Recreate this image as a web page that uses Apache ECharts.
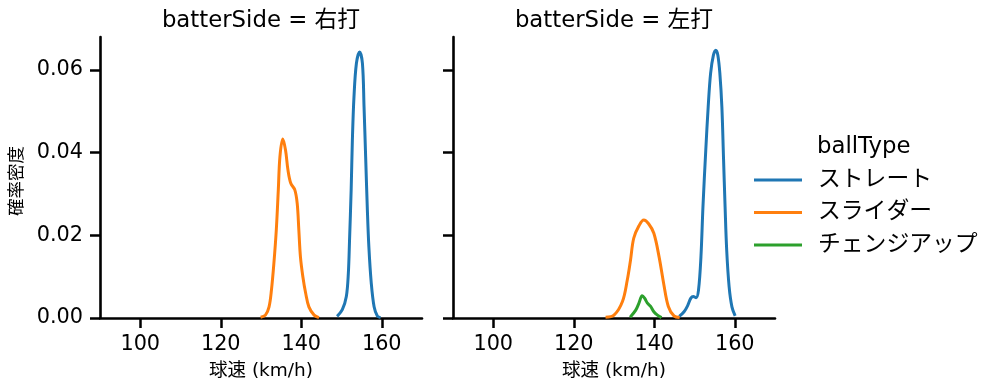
<!DOCTYPE html>
<html>
<head>
<meta charset="utf-8">
<script src="https://cdn.jsdelivr.net/npm/echarts@6/dist/echarts.min.js"></script>
<style>
  html, body { margin: 0; padding: 0; background: #fff; }
  #chart { width: 999px; height: 391px; }
</style>
</head>
<body>
<div id="chart"></div>
<script>
// ---- data ----
const panelTitles = ['batterSide = 右打', 'batterSide = 左打'];
const ballTypes = ['ストレート', 'スライダー', 'チェンジアップ'];
const xTicks = [100, 120, 140, 160];
const yTicks = [0, 0.02, 0.04, 0.06];

// 右打 : ストレート
const rStraightX = [148.9, 150.2, 151.2, 151.7, 152.0, 152.4, 152.7, 153.1, 153.7, 154.5, 155.2, 155.6, 156.0, 156.4, 156.8, 157.4, 158.1, 158.9, 159.7];
const rStraightY = [0.0004, 0.002, 0.0052, 0.0108, 0.0189, 0.031, 0.043, 0.0535, 0.0616, 0.0644, 0.0616, 0.0511, 0.039, 0.0269, 0.0172, 0.0084, 0.0027, 0.0005, 0.0001];
// 右打 : スライダー
const rSliderX = [129.9, 131.1, 132.0, 132.6, 133.2, 133.8, 134.3, 134.7, 135.4, 136.1, 136.7, 137.4, 138.4, 139.0, 139.4, 139.8, 140.4, 141.1, 141.9, 143.2, 144.4];
const rSliderY = [0.0002, 0.0007, 0.0027, 0.0068, 0.0132, 0.0213, 0.031, 0.039, 0.0433, 0.0406, 0.0358, 0.0326, 0.031, 0.0277, 0.0213, 0.0148, 0.010, 0.006, 0.0027, 0.0007, 0.0001];
// 左打 : ストレート
const lStraightX = [146.2, 147.4, 148.3, 149.1, 149.7, 150.4, 151.0, 151.6, 152.1, 152.8, 153.4, 154.0, 154.7, 155.3, 155.8, 156.3, 156.8, 157.2, 157.6, 158.0, 158.6, 159.3, 160.1];
const lStraightY = [0.0004, 0.0015, 0.003, 0.0048, 0.0052, 0.0049, 0.0068, 0.0148, 0.0269, 0.0406, 0.0511, 0.0592, 0.0636, 0.0648, 0.0636, 0.0592, 0.0511, 0.039, 0.0269, 0.0164, 0.0076, 0.0027, 0.0005];
// 左打 : スライダー
const lSliderX = [127.9, 130.0, 132.1, 133.3, 134.1, 134.9, 136.2, 137.4, 138.6, 139.9, 141.2, 142.4, 143.5, 144.9, 146.3];
const lSliderY = [0.0002, 0.0007, 0.004, 0.0092, 0.014, 0.0193, 0.0223, 0.0237, 0.0228, 0.0205, 0.0148, 0.008, 0.0028, 0.0005, 0.0001];
// 左打 : チェンジアップ
const lChangeX = [134.0, 135.4, 136.2, 137.0, 137.6, 138.3, 139.1, 139.9, 140.8, 141.8];
const lChangeY = [0.0002, 0.0019, 0.0036, 0.0054, 0.0048, 0.0036, 0.0028, 0.0015, 0.0007, 0.0001];

const colors = { 'ストレート': '#1f77b4', 'スライダー': '#ff7f0e', 'チェンジアップ': '#2ca02c' };

// ---- chart ----
const FONT = 'DejaVu Sans, "Noto Sans CJK JP", sans-serif';
const zip = (xs, ys) => xs.map((x, i) => [x, ys[i]]);

function xAxis(gridIndex) {
  return {
    type: 'value', gridIndex, min: 90, max: 170,
    name: '球速 (km/h)', nameLocation: 'middle', nameGap: 44,
    nameTextStyle: { fontFamily: FONT, fontSize: 18.5, color: '#000' },
    axisLine: { show: true, onZero: false, lineStyle: { color: '#000', width: 2.6 } },
    axisTick: { show: true, length: 10, lineStyle: { color: '#000', width: 2.5 }, customValues: xTicks },
    axisLabel: { show: true, margin: 16, fontFamily: FONT, fontSize: 20.8, color: '#000', customValues: xTicks },
    splitLine: { show: false }
  };
}
function yAxis(gridIndex, showLabel) {
  return {
    type: 'value', gridIndex, min: 0, max: 0.068,
    axisLine: { show: true, lineStyle: { color: '#000', width: 2.6 } },
    axisTick: { show: true, length: 10, lineStyle: { color: '#000', width: 2.5 }, customValues: yTicks },
    axisLabel: { show: showLabel, margin: 17, fontFamily: FONT, fontSize: 20.8, color: '#000', customValues: yTicks,
                 formatter: v => v.toFixed(2) },
    splitLine: { show: false }
  };
}
function line(name, xi, xs, ys) {
  return {
    type: 'line', name, xAxisIndex: xi, yAxisIndex: xi,
    data: zip(xs, ys), showSymbol: false, smooth: 0.35, clip: true,
    lineStyle: { color: colors[name], width: 3 }, itemStyle: { color: colors[name] },
    emphasis: { disabled: true }
  };
}

const chart = echarts.init(document.getElementById('chart'), null, { renderer: 'canvas' });
chart.setOption({
  animation: false,
  backgroundColor: '#fff',
  grid: [
    { left: 100, top: 37, width: 322, height: 281 },
    { left: 453, top: 37, width: 322, height: 281 }
  ],
  xAxis: [xAxis(0), xAxis(1)],
  yAxis: [yAxis(0, true), yAxis(1, false)],
  legend: {
    data: ballTypes, orient: 'vertical', left: 754, top: 168, padding: 0,
    icon: 'rect', itemWidth: 48, itemHeight: 3, itemGap: 8.5,
    textStyle: { fontFamily: FONT, fontSize: 22.8, color: '#000', lineHeight: 24, padding: [0, 0, 0, 11] },
    selectedMode: false
  },
  graphic: [
    { type: 'text', x: 261, y: 21, style: { text: panelTitles[0], fontFamily: FONT, fontSize: 22.8, fill: '#000', align: 'center', verticalAlign: 'middle' } },
    { type: 'text', x: 614, y: 21, style: { text: panelTitles[1], fontFamily: FONT, fontSize: 22.8, fill: '#000', align: 'center', verticalAlign: 'middle' } },
    { type: 'text', x: 817, y: 147, style: { text: 'ballType', fontFamily: FONT, fontSize: 22.8, fill: '#000', align: 'left', verticalAlign: 'middle' } },
    { type: 'text', x: 17, y: 181, rotation: Math.PI / 2, style: { text: '確率密度', fontFamily: FONT, fontSize: 17.5, fill: '#000', align: 'center', verticalAlign: 'middle' } }
  ],
  series: [
    line('ストレート', 0, rStraightX, rStraightY),
    line('スライダー', 0, rSliderX, rSliderY),
    line('ストレート', 1, lStraightX, lStraightY),
    line('スライダー', 1, lSliderX, lSliderY),
    line('チェンジアップ', 1, lChangeX, lChangeY)
  ]
});
</script>
</body>
</html>
